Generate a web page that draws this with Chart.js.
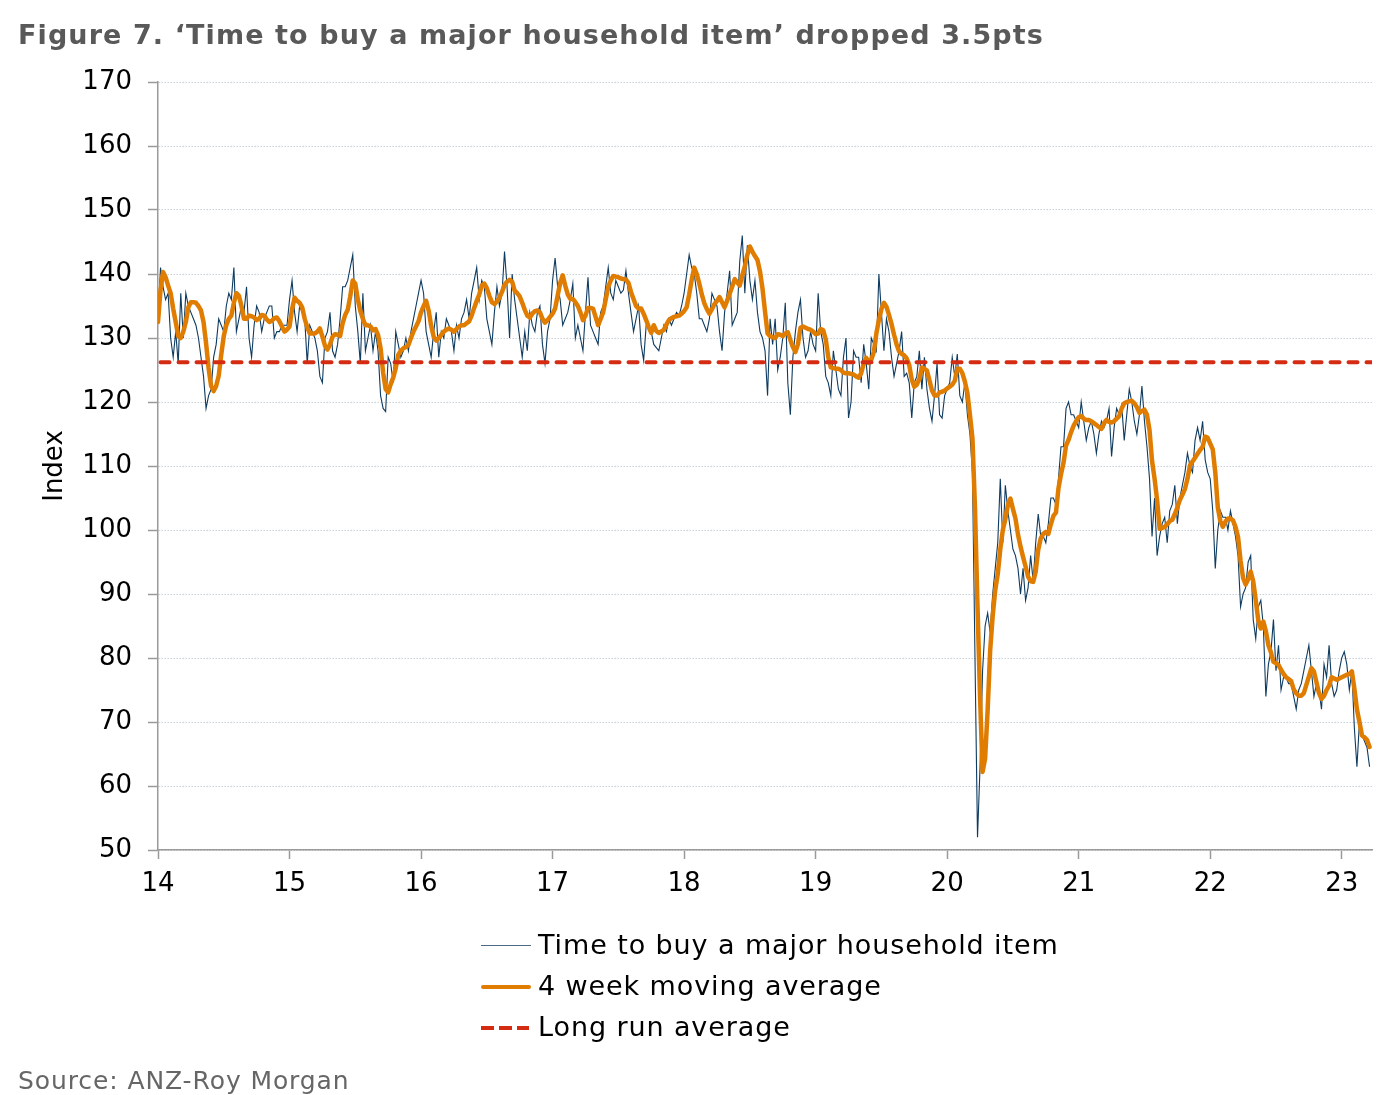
<!DOCTYPE html>
<html>
<head>
<meta charset="utf-8">
<script src="https://cdn.jsdelivr.net/npm/chart.js@4.4.1/dist/chart.umd.min.js"></script>
<style>
  html, body { margin: 0; padding: 0; background: #fff; }
  #wrap { position: relative; width: 1384px; height: 1095px; font-family: "DejaVu Sans", Verdana, sans-serif; }
  #chart { position: absolute; left: 0; top: 0; }
  .title { position: absolute; left: 18px; top: 19px; font-weight: bold; font-size: 27px; letter-spacing: 1.1px; color: #595959; white-space: nowrap; }
  .source { position: absolute; left: 18px; top: 1066px; font-size: 25px; letter-spacing: 0.9px; color: #666; white-space: nowrap; }
  .legend { position: absolute; left: 480px; top: 929px; }
  .legend .row { position: relative; height: 41px; font-size: 27px; letter-spacing: 0.9px; color: #000; white-space: nowrap; }
  .legend .row span.txt { position: absolute; left: 58px; top: 0; }
  .legend .swatch { position: absolute; left: 1px; width: 50px; }
  .sw-raw { top: 16px; height: 1px; background: #4d6a84; }
  .sw-ma { top: 15px; height: 4px; background: #e07c00; border-radius: 2px; }
  .sw-lra { top: 15px; height: 4px; width: 48px !important;
            background: repeating-linear-gradient(90deg, #d52b12 0 13px, transparent 13px 18px); }
</style>
</head>
<body>
<div id="wrap">
  <canvas id="chart" width="1384" height="1095"></canvas>
  <div class="title">Figure 7. ‘Time to buy a major household item’ dropped 3.5pts</div>
  <div class="legend">
    <div class="row"><div class="swatch sw-raw"></div><span class="txt">Time to buy a major household item</span></div>
    <div class="row"><div class="swatch sw-ma"></div><span class="txt">4 week moving average</span></div>
    <div class="row"><div class="swatch sw-lra"></div><span class="txt">Long run average</span></div>
  </div>
  <div class="source">Source: ANZ-Roy Morgan</div>
</div>
<script>
// weekly readings, first week of 2014 onwards (x axis is the year, '14' = 2014)
const START_YEAR = 14;
const WEEKS_PER_YEAR = 52;

const timeToBuy = [
  133, 141, 138, 136, 137, 130, 127, 131, 126, 137,
  130, 137, 135, 134, 133, 132, 130, 127, 124, 119,
  121, 122, 127, 129, 133, 132, 131, 135, 137, 136,
  141, 131, 133, 135, 134, 138, 130, 127, 132, 135,
  134, 131, 133, 134, 135, 135, 130, 131, 131, 132,
  132, 132, 136, 139, 134, 131, 135, 134, 133, 126,
  132, 131, 130, 128, 124, 123, 130, 131, 134, 128,
  127, 129, 133, 138, 138, 139, 141, 143, 135, 131,
  126, 137, 128, 130, 132, 128, 131, 128, 121, 119,
  118.5, 127, 126, 123, 131, 129, 127, 128, 130, 128,
  131, 133, 135, 137, 139, 137, 131, 129, 127, 131,
  134, 127, 131, 130, 133, 132, 131, 128, 132, 130,
  133, 134, 136, 133, 137, 139, 141, 136, 139, 138,
  133, 131, 129, 134, 138, 135, 137, 143.5, 138, 130,
  140, 136, 133, 130, 127, 131, 128, 134, 132, 131,
  134, 135, 129, 126, 131, 133, 139, 142.5, 138, 136,
  132, 133, 134, 136, 138.5, 130, 132, 130, 128, 134,
  139.5, 132, 131, 130, 129, 134, 135, 138, 141, 137,
  136, 139, 138, 137, 137.5, 140.5, 137, 134, 131, 133,
  135, 129, 126.5, 132, 132, 131, 129, 128.5, 128, 130,
  132, 131, 133, 132, 133, 134, 133.5, 135, 137, 140,
  143, 141, 140, 137, 133, 133, 132, 131, 133, 137,
  136, 135, 131, 128, 134, 137, 140.5, 132, 133, 134,
  142, 146, 137, 144.5, 139, 136, 139, 134, 131, 130,
  128, 121, 133, 129, 133, 125, 127, 130, 135.5, 123,
  118, 127, 131, 134, 136, 130, 127, 128, 131, 129,
  128, 137, 131, 129, 124, 123, 121, 128, 125, 122,
  121, 127, 130, 117.5, 120, 128, 127, 127, 123, 129,
  126, 122, 130, 129, 128, 140, 134, 128, 133, 131,
  127, 124, 126, 128, 131, 124, 124.5, 123, 117.5, 123,
  124, 128, 122, 127, 122, 119, 117, 121, 126, 118,
  117.5, 121, 122, 123, 127, 124, 127.5, 121, 120, 123,
  118, 115, 109, 80, 52, 63, 78, 85, 87, 84,
  90, 94, 98, 108, 98, 107, 103, 100, 97, 96,
  94, 90, 94, 89, 91, 96, 92, 98, 102.5, 99,
  99, 98, 101, 105, 105, 104, 108, 113, 113, 119,
  120, 118, 118, 117, 116, 120, 117, 114, 116, 117,
  115, 112, 115, 117, 116, 117, 119, 111.5, 116, 119,
  118, 119.5, 114, 118, 122, 120, 117, 115, 118, 122.5,
  117, 113, 108, 99, 105, 96, 99, 101, 102, 98,
  103, 104, 107, 101, 105, 107, 109, 112, 110, 109,
  114, 116, 114, 117, 111, 109, 108, 103, 94, 100,
  103, 102, 102, 100, 103, 101, 99, 96, 88, 90,
  91, 95, 96, 86, 83, 88, 89, 85, 74, 79,
  81, 86, 78, 82, 75, 77, 77, 76, 76, 74,
  72, 75, 76, 78, 80, 82, 78, 74, 76, 75,
  72, 79, 77, 82, 76, 74, 75, 78, 80, 81,
  79, 75, 78, 69, 63, 70, 68, 67, 66, 63
];

const movingAvg4w = [
  132.5, 137.5, 140.3, 139.5, 138.2, 137.0, 134.6, 132.5, 130.3, 130.0,
  131.0, 132.5, 134.8, 135.6, 135.6, 135.5, 135.0, 134.3, 132.5, 129.2,
  125.3, 122.5, 121.7, 122.5, 124.1, 127.4, 130.3, 132.0, 133.0, 133.5,
  135.5, 137.0, 136.6, 135.0, 133.0, 133.0, 133.5, 133.4, 133.2, 132.8,
  133.0, 133.6, 133.5, 132.9, 132.5, 132.7, 133.1, 133.2, 132.6, 131.8,
  131.0, 131.3, 131.8, 134.5, 136.3, 135.8, 135.5, 134.8, 133.0, 131.7,
  130.7, 130.7, 130.7, 131.0, 131.5, 130.2, 128.8, 128.2, 129.0, 130.2,
  130.6, 130.5, 130.3, 132.3, 133.6, 134.4, 136.5, 139.0, 138.5, 136.0,
  134.2, 133.0, 132.0, 132.0, 131.8, 131.2, 131.4, 130.5, 128.4, 124.6,
  122.0, 121.5, 122.8, 123.8, 125.3, 127.4, 128.0, 128.4, 128.6, 128.9,
  130.0, 131.0, 131.8, 132.6, 134.0, 135.0, 135.8, 134.3, 131.9, 130.2,
  129.6, 130.0, 130.5, 131.0, 131.3, 131.5, 131.3, 131.0, 131.4, 131.8,
  132.0, 132.0, 132.3, 132.6, 133.5, 134.7, 135.8, 136.8, 138.2, 138.5,
  137.8, 136.6, 135.6, 135.3, 135.7, 136.3, 137.2, 138.3, 138.8, 139.1,
  138.8, 137.4, 137.0, 136.5, 135.5, 134.4, 133.5, 133.2, 133.8, 134.2,
  134.3, 134.0, 133.0, 132.4, 132.8, 133.3, 133.8, 134.6, 136.6, 138.6,
  139.8, 138.2, 136.8, 136.1, 136.1, 135.6, 135.0, 134.0, 132.8, 133.5,
  134.7, 134.7, 134.6, 133.3, 132.0, 133.0, 134.0, 136.0, 138.0, 139.0,
  139.7, 139.6, 139.5, 139.3, 139.2, 139.1, 138.6, 137.2, 136.1, 135.0,
  134.6, 134.6, 133.8, 132.8, 131.7, 130.8, 132.0, 131.1, 130.8, 131.0,
  131.3, 132.1, 132.8, 133.1, 133.3, 133.4, 133.5, 133.8, 134.2, 134.8,
  136.8, 139.1, 141.0, 140.0, 138.5, 136.8, 135.4, 134.5, 133.8, 134.5,
  135.3, 135.8, 136.4, 135.6, 134.8, 135.8, 136.9, 138.0, 139.2, 138.7,
  138.2, 139.8, 141.2, 143.0, 144.3, 143.5, 142.8, 142.2, 140.4, 137.7,
  134.1, 130.7, 130.3, 130.1, 130.0, 130.6, 130.5, 130.3, 130.7, 130.9,
  129.7, 128.6, 127.8, 129.0, 131.6, 131.8, 131.6, 131.4, 131.3, 131.0,
  130.6, 130.7, 131.4, 131.2, 129.8, 127.0, 125.4, 125.3, 125.2, 125.2,
  125.0, 124.6, 124.5, 124.5, 124.4, 124.3, 124.0, 123.8, 124.5, 126.0,
  126.9, 126.1, 126.6, 127.8, 130.7, 132.8, 134.5, 135.5, 134.9, 133.6,
  132.2, 130.5, 129.0, 127.9, 127.5, 127.3, 126.8, 125.8, 123.5, 122.4,
  122.7, 123.6, 125.4, 125.2, 124.9, 123.4, 121.8, 121.0, 121.0, 121.5,
  121.6, 121.8, 122.1, 122.4, 122.7, 123.3, 125.2, 125.2, 124.5, 123.2,
  121.4, 118.0, 114.3, 103.5, 88.0, 74.0, 62.2, 64.3, 71.8, 81.2,
  86.6, 90.6, 93.1, 97.0, 100.0, 101.7, 103.9, 104.9, 103.3, 101.8,
  99.3, 97.4, 95.8, 94.3, 92.7, 92.0, 91.9, 93.5, 96.9, 98.7,
  99.4, 99.7, 99.4, 100.9, 102.2, 102.7, 106.5, 108.7, 110.5, 113.2,
  114.1, 115.3, 116.3, 117.0, 117.6, 117.8, 117.4, 117.2, 117.2, 117.0,
  116.7, 116.4, 116.1, 115.8, 116.7, 117.2, 116.9, 116.8, 117.0, 117.4,
  117.8, 119.0, 119.8, 120.0, 120.1, 120.2, 119.8, 119.2, 118.3, 118.6,
  118.8, 118.0, 115.6, 110.8, 108.0, 104.7, 100.2, 100.3, 100.5, 100.9,
  101.4, 101.6, 102.5, 103.5, 104.7, 105.5, 106.4, 108.0, 110.1, 110.7,
  111.3, 111.9, 112.5, 113.0, 114.6, 114.4, 113.5, 112.6, 109.0, 103.5,
  101.4, 100.5, 101.3, 101.8, 101.8, 101.5, 100.5, 98.9, 95.2, 92.5,
  91.5, 92.3, 93.5, 92.0, 89.0, 85.9, 84.6, 85.7, 84.2, 82.0,
  80.9, 79.4, 79.2, 78.9, 78.2, 77.5, 77.0, 76.7, 76.4, 75.1,
  74.5, 74.1, 74.1, 74.5, 75.8, 77.1, 78.4, 77.9, 76.2, 74.5,
  73.6, 74.1, 75.0, 75.7, 77.0, 76.8, 76.6, 76.8, 77.0, 77.2,
  77.4, 77.5, 77.9, 75.2, 72.0, 70.0, 67.9, 67.6, 67.2, 66.1
];

const longRunAverage = 126.2;
const yTicks = [50, 60, 70, 80, 90, 100, 110, 120, 130, 140, 150, 160, 170];
const yearTicks = [14, 15, 16, 17, 18, 19, 20, 21, 22, 23];

const FONT = 'DejaVu Sans, Verdana, sans-serif';
const AXIS_GREY = '#9a9a9a';

const weekX = (i) => START_YEAR + i / WEEKS_PER_YEAR;
const rawPts = timeToBuy.map((v, i) => ({ x: weekX(i), y: v }));
const maPts = movingAvg4w.map((v, i) => ({ x: weekX(i), y: v }));
const lastX = weekX(timeToBuy.length - 1);
const lraPts = [{ x: weekX(1), y: longRunAverage }, { x: lastX + 0.02, y: longRunAverage }];

new Chart(document.getElementById('chart'), {
  type: 'line',
  data: {
    datasets: [
      {
        label: 'Long run average',
        data: lraPts,
        borderColor: '#d52b12',
        borderWidth: 4,
        borderDash: [9, 9],
        borderCapStyle: 'round',
        pointRadius: 0,
        order: 0,
      },
      {
        label: '4 week moving average',
        data: maPts,
        borderColor: '#e07c00',
        borderWidth: 4.5,
        borderJoinStyle: 'round',
        borderCapStyle: 'round',
        pointRadius: 0,
        tension: 0,
        order: 1,
      },
      {
        label: 'Time to buy a major household item',
        data: rawPts,
        borderColor: '#0e3b60',
        borderWidth: 1.1,
        pointRadius: 0,
        tension: 0,
        order: 2,
      }
    ]
  },
  options: {
    responsive: false,
    animation: false,
    devicePixelRatio: 1,
    layout: { padding: { left: 0, top: 82, right: 12, bottom: 0 } },
    plugins: {
      legend: { display: false },
      tooltip: { enabled: false },
    },
    scales: {
      x: {
        type: 'linear',
        min: START_YEAR,
        max: 23.23,
        afterBuildTicks: (s) => { s.ticks = yearTicks.map(v => ({ value: v })); },
        afterFit: (s) => { s.height = 245; },
        grid: { drawOnChartArea: false, drawTicks: true, tickLength: 9, tickColor: AXIS_GREY, tickWidth: 1.5 },
        border: { display: true, color: AXIS_GREY, width: 1.5 },
        ticks: {
          color: '#000',
          padding: 10,
          maxRotation: 0,
          font: { size: 26, family: FONT },
          callback: (v) => String(v),
        },
      },
      y: {
        min: 50,
        max: 170,
        afterBuildTicks: (s) => { s.ticks = yTicks.map(v => ({ value: v })); },
        afterFit: (s) => { s.width = 158; },
        grid: {
          color: '#c6d1da',
          lineWidth: 1,
          drawTicks: true,
          tickLength: 10,
          tickColor: AXIS_GREY,
          tickWidth: 1.5,
          tickBorderDash: [],
        },
        border: { display: true, color: AXIS_GREY, width: 1.5, dash: [1.5, 1.5] },
        ticks: {
          color: '#000',
          padding: 16,
          font: { size: 26, family: FONT },
        },
        title: {
          display: true,
          text: 'Index',
          color: '#000',
          font: { size: 26, family: FONT },
          padding: { top: 40, bottom: 0 },
        },
      },
    },
  },
});
</script>
</body>
</html>
